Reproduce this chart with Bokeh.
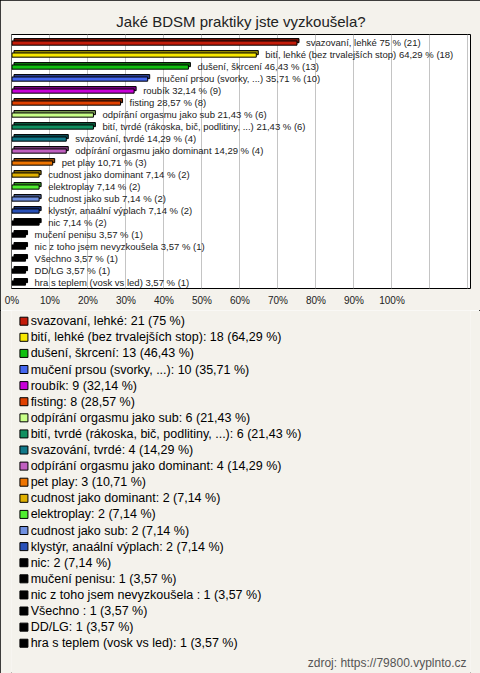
from bokeh.plotting import figure
from bokeh.layouts import column
from bokeh.models import Range1d, FixedTicker, Label, ColumnDataSource
from bokeh.transform import dodge
from bokeh.core.properties import value
from bokeh.embed import file_html
from bokeh.resources import INLINE

title_text = "Jaké BDSM praktiky jste vyzkoušela?"
source_text = "zdroj: https://79800.vyplnto.cz"

categories = [
    "svazovaní, lehké",
    "bití, lehké (bez trvalejších stop)",
    "dušení, škrcení",
    "mučení prsou (svorky, ...)",
    "roubík",
    "fisting",
    "odpírání orgasmu jako sub",
    "bití, tvrdé (rákoska, bič, podlitiny, ...)",
    "svazování, tvrdé",
    "odpírání orgasmu jako dominant",
    "pet play",
    "cudnost jako dominant",
    "elektroplay",
    "cudnost jako sub",
    "klystýr, anaální výplach",
    "nic",
    "mučení penisu",
    "nic z toho jsem nevyzkoušela ",
    "Všechno ",
    "DD/LG",
    "hra s teplem (vosk vs led)",
]
counts = [21, 18, 13, 10, 9, 8, 6, 6, 4, 4, 3, 2, 2, 2, 2, 2, 1, 1, 1, 1, 1]
percents = [75, 64.29, 46.43, 35.71, 32.14, 28.57, 21.43, 21.43, 14.29, 14.29,
            10.71, 7.14, 7.14, 7.14, 7.14, 7.14, 3.57, 3.57, 3.57, 3.57, 3.57]
colors = ["#c41c0a", "#f8e800", "#10c010", "#4466ee", "#c800d8", "#e04000",
          "#c8ff88", "#109060", "#107888", "#c060c0", "#ee7400", "#e0b000",
          "#50ee30", "#7090e0", "#2850b8", "#000000", "#000000", "#000000",
          "#000000", "#000000", "#000000"]
tick_values = [0, 10, 20, 30, 40, 50, 60, 70, 80, 90, 100]
tick_labels = ["0%", "10%", "20%", "30%", "40%", "50%", "60%", "70%", "80%", "90%", "100%"]
grid_values = [0, 10, 20, 30, 40, 50, 60, 70, 80, 90, 100, 110, 120]


def fmt(v):
    s = f"{v:.2f}".rstrip("0").rstrip(".")
    return s.replace(".", ",")


def darker(c, f=0.62):
    r, g, b = int(c[1:3], 16), int(c[3:5], 16), int(c[5:7], 16)
    return "#%02x%02x%02x" % (int(r * f), int(g * f), int(b * f))


rows = list(range(len(categories)))
bar_labels = [f"{n} {fmt(v)} % ({c})" for n, v, c in zip(categories, percents, counts)]
legend_texts = [f"{n}: {c} ({fmt(v)} %)" for n, v, c in zip(categories, percents, counts)]

src = ColumnDataSource(dict(
    y=rows, pct=percents, color=colors,
    dark=[darker(c) for c in colors], label=bar_labels, legend=legend_texts,
))

FONT = "Liberation Sans"
BG = "#f4f2ec"
PXY = 1 / 12.0   # one pixel in row units
PXX = 1 / 3.8    # one pixel in percent units

# ---------------- chart ----------------
p = figure(
    width=480, height=310,
    x_range=Range1d(-0.13, 120.66), y_range=Range1d(20.53, -0.64),
    output_backend="svg", toolbar_location=None, y_axis_location=None,
    min_border_left=11, min_border_right=10, min_border_top=34, min_border_bottom=22,
)
p.border_fill_color = BG
p.background_fill_color = "#ffffff"
p.outline_line_color = "#000000"
p.outline_line_width = 1

p.title.text = title_text
p.title.align = "center"
p.title.text_font = FONT
p.title.text_font_size = "15px"
p.title.text_font_style = "normal"
p.title.text_color = "#222222"
p.title.standoff = 9

p.xaxis.ticker = FixedTicker(ticks=tick_values)
p.xaxis.major_label_overrides = dict(zip(tick_values, tick_labels))
p.xaxis.axis_line_color = None
p.xaxis.major_tick_line_color = None
p.xaxis.minor_tick_line_color = None
p.xaxis.major_tick_out = 0
p.xaxis.major_label_standoff = 6
p.xaxis.major_label_text_font = FONT
p.xaxis.major_label_text_font_size = "10px"
p.xaxis.major_label_text_color = "#222222"

p.xgrid.ticker = FixedTicker(ticks=grid_values)
p.xgrid.grid_line_color = "#c4c4c4"
p.ygrid.visible = False

# 3D-look bars: offset top face, then front face
p.hbar(y=dodge("y", -1.55 * PXY), left=2 * PXX, right=dodge("pct", 2 * PXX), height=4.1 * PXY,
       fill_color="dark", line_color="#000000", line_width=1, source=src)
p.hbar(y=dodge("y", 0.9 * PXY), left=0, right="pct", height=4.2 * PXY,
       fill_color="color", line_color="#000000", line_width=1, source=src)

p.text(x="pct", y="y", text="label", x_offset=9, text_baseline="middle", text_align="left",
       text_font=value(FONT), text_font_size="9.5px", text_color="#222222", source=src)

# ---------------- legend panel ----------------
q = figure(
    width=480, height=363,
    x_range=Range1d(0, 480), y_range=Range1d(21.88, -0.665),
    output_backend="svg", toolbar_location=None,
    x_axis_location=None, y_axis_location=None,
    min_border_left=0, min_border_right=0, min_border_top=0, min_border_bottom=0,
)
q.border_fill_color = BG
q.background_fill_color = BG
q.outline_line_color = None
q.xgrid.visible = False
q.ygrid.visible = False

q.scatter(x=13, y="y", marker="square", size=8, fill_color="color",
          line_color="#000000", line_width=1, source=src)
q.text(x=20, y="y", text="legend", text_baseline="middle", text_align="left",
       text_font=value(FONT), text_font_size="12.5px", text_color="#000000", source=src)

q.add_layout(Label(x=455, y=11, x_units="screen", y_units="screen", text=source_text,
                   text_align="right", text_baseline="middle", text_font=FONT,
                   text_font_size="12px", text_color="#555555"))

layout = column(p, q, spacing=0)
layout.styles = {"outline": "1px solid #000000", "outline-offset": "-1px"}

open("out.html", "w").write(file_html(layout, INLINE))
